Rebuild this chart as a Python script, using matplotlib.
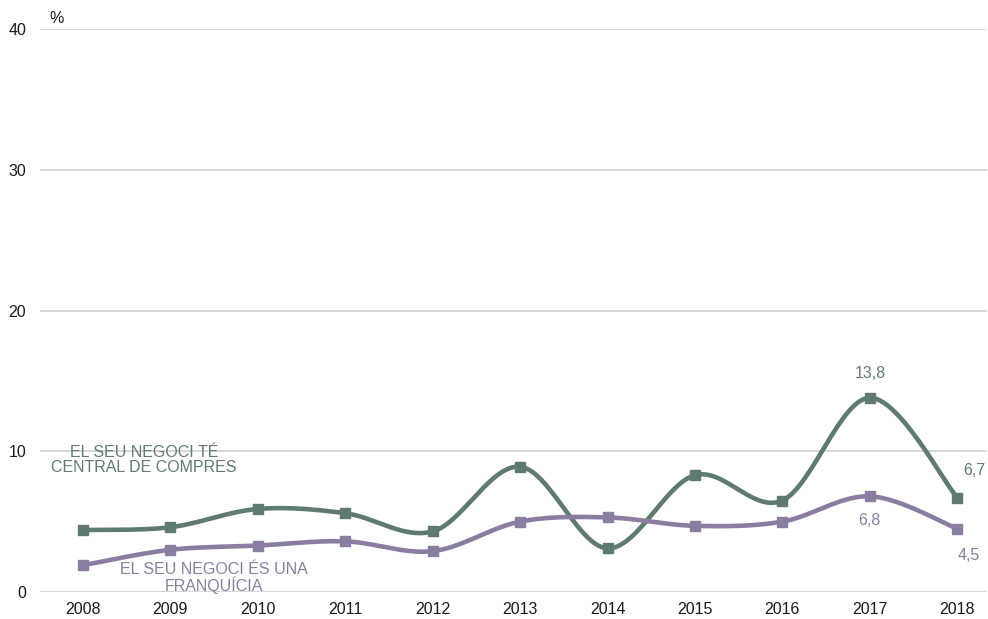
import numpy as np
import matplotlib
matplotlib.use("Agg")
import matplotlib.pyplot as plt

plt.rcParams['font.family'] = ['Liberation Sans', 'DejaVu Sans']

years = ['2008', '2009', '2010', '2011', '2012', '2013', '2014', '2015', '2016', '2017', '2018']
central_compres = [4.4, 4.6, 5.9, 5.6, 4.3, 8.9, 3.1, 8.3, 6.5, 13.8, 6.7]
franquicia = [1.9, 3.0, 3.3, 3.6, 2.9, 5.0, 5.3, 4.7, 5.0, 6.8, 4.5]
y_ticks = [0, 10, 20, 30, 40]

green = '#5f7b6f'
purple = '#8a7ea0'
FS = 11.5


def smooth(xs, ys, n=30):
    xs = np.asarray(xs, float)
    ys = np.asarray(ys, float)
    px = np.concatenate([[xs[0]], xs, [xs[-1]]])
    py = np.concatenate([[ys[0]], ys, [ys[-1]]])
    outx, outy = [], []
    t = np.linspace(0, 1, n)
    for i in range(1, len(px) - 2):
        p0, p1, p2, p3 = [np.array([px[j], py[j]]) for j in range(i - 1, i + 3)]
        c1 = p1 + (p2 - p0) / 6.0
        c2 = p2 - (p3 - p1) / 6.0
        b = ((1 - t) ** 3)[:, None] * p1 + (3 * (1 - t) ** 2 * t)[:, None] * c1 \
            + (3 * (1 - t) * t ** 2)[:, None] * c2 + (t ** 3)[:, None] * p2
        outx.extend(b[:, 0])
        outy.extend(b[:, 1])
    return np.array(outx), np.array(outy)


fig = plt.figure(figsize=(9.88, 6.19), dpi=100)
ax = fig.add_axes([40 / 988, 1 - 592 / 619, 947 / 988, (592 - 29) / 619])

x = np.arange(len(years))
for vals, col in [(central_compres, green), (franquicia, purple)]:
    sx, sy = smooth(x, vals)
    ax.plot(sx, sy, color=col, lw=3.3, solid_capstyle='round', zorder=3)
    ax.plot(x, vals, ls='none', marker='s', ms=7.5, color=col, zorder=4)

ax.set_xlim(-0.49, 10.34)
ax.set_ylim(0, 40)
ax.set_yticks(y_ticks)
ax.set_yticklabels([str(v) for v in y_ticks])
ax.set_xticks(x)
ax.set_xticklabels(years)
ax.tick_params(axis='both', length=0, labelsize=FS, colors='#1a1a1a')
ax.tick_params(axis='x', pad=7)
ax.tick_params(axis='y', pad=10)
ax.grid(axis='y', color='#d0d0d0', lw=1.2)
ax.set_axisbelow(True)
for s in ax.spines.values():
    s.set_visible(False)

ax.text(0.01, 1.005, '%', transform=ax.transAxes, fontsize=FS, color='#1a1a1a', va='bottom')

ax.text(0.7, 9.4, 'EL SEU NEGOCI TÉ\nCENTRAL DE COMPRES', color=green, fontsize=FS,
        ha='center', va='center', linespacing=1.0)
ax.text(1.5, 1.0, 'EL SEU NEGOCI ÉS UNA\nFRANQUÍCIA', color=purple, fontsize=FS,
        ha='center', va='center', linespacing=1.0)

ax.annotate('13,8', (9, central_compres[9]), xytext=(0, 12), textcoords='offset points',
            ha='center', va='bottom', color=green, fontsize=FS)
ax.annotate('6,7', (10, central_compres[10]), xytext=(12, 14), textcoords='offset points',
            ha='center', va='bottom', color=green, fontsize=FS)
ax.annotate('6,8', (9, franquicia[9]), xytext=(0, -12), textcoords='offset points',
            ha='center', va='top', color=purple, fontsize=FS)
ax.annotate('4,5', (10, franquicia[10]), xytext=(8, -14), textcoords='offset points',
            ha='center', va='top', color=purple, fontsize=FS)

fig.savefig('out.png', dpi=100)
